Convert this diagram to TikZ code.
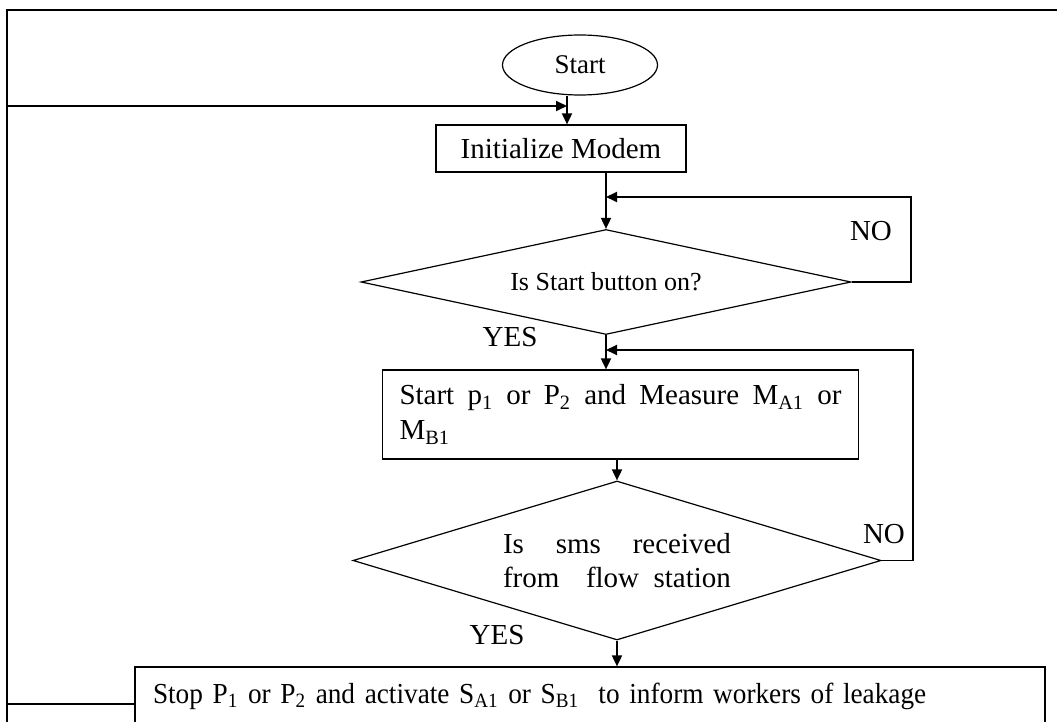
\documentclass[tikz,border=0pt]{standalone}
\usepackage{fontspec}
\setmainfont{Liberation Serif}
\newfontfamily\narrowfont[FakeStretch=0.94]{Liberation Serif}
\usetikzlibrary{shapes.geometric,arrows.meta}

\begin{document}
\begin{tikzpicture}[x=0.5pt, y=0.5pt, line width=0.6pt,
    font=\fontsize{14.5}{17.4}\selectfont,
    arr/.style={-{Triangle[length=5.5pt,width=5pt]}, line width=0.9pt},
    lbl/.style={inner sep=0pt}]
  \useasboundingbox (0,0) rectangle (1057,-722);
  \coordinate (corner) at (7,-10);
  \draw (7,-722) -- (corner) -- (1057,-10);

  \node[draw, ellipse, minimum width=77.5pt, minimum height=30pt, inner sep=0pt, font=\fontsize{13.5}{15}\selectfont] (start) at (580,-65) {Start};
  \node[draw, rectangle, minimum width=125pt, minimum height=23.5pt, below of=start, node distance=41.75pt, xshift=-9.5pt] (init) {Initialize Modem};
  \node[draw, diamond, aspect=4.67, minimum width=245pt, minimum height=52.5pt, inner sep=0pt, font=\fontsize{13}{15}\selectfont, below of=init, node distance=66.75pt, xshift=22.5pt] (btn) {Is Start button on?};
  \node[draw, rectangle, text width=221pt, align=justify, inner xsep=8.5pt, minimum height=44.5pt, below of=btn, node distance=66.25pt, xshift=7.25pt] (meas) {Start p\textsubscript{1} or P\textsubscript{2} and Measure M\textsubscript{A1} or\linebreak M\textsubscript{B1}};
  \node[draw, diamond, aspect=3.32, minimum width=264pt, minimum height=79.5pt, inner sep=0pt, text width=114pt, align=justify, below of=meas, node distance=73pt, xshift=-1.75pt] (sms) {Is sms received\linebreak from\hfill flow\hspace{0.5em}station};
  \node[draw, rectangle, text width=437pt, align=left, inner xsep=9pt, inner ysep=4pt, text height=14pt, text depth=15pt, font=\narrowfont\fontsize{14.5}{17.4}\selectfont, below of=sms, node distance=71.75pt, xshift=-13.5pt] (stop) {Stop P\textsubscript{1} or P\textsubscript{2} and activate S\textsubscript{A1} or S\textsubscript{B1}\ \ to inform workers of leakage};

  \node[lbl] (no1) at (871,-231) {NO};
  \node[lbl] (yes1) at (510,-337) {YES};
  \node[lbl] (no2) at (884,-534) {NO};
  \node[lbl] (yes2) at (497,-635) {YES};

  \coordinate (fb) at (567,-106);
  \coordinate (loop1) at (911,-197);
  \coordinate (loop2) at (913,-350);

  \draw[arr] ([xshift=-6.5pt]start.south) -- ([xshift=3pt]init.north);
  \draw[arr] (stop.west) -- (stop.west -| corner) |- (fb);
  \draw[arr] (init.south -| btn.north) -- (btn.north);
  \draw[arr] (btn.east) -| (loop1) -- (loop1 -| btn.north);
  \draw[arr] (btn.south) -- (btn.south |- meas.north);
  \draw[arr] (meas.south -| sms.north) -- (sms.north);
  \draw[arr] (sms.east) -| (loop2) -- (loop2 -| btn.south);
  \draw[arr] (sms.south) -- (sms.south |- stop.north);
\end{tikzpicture}
\end{document}
